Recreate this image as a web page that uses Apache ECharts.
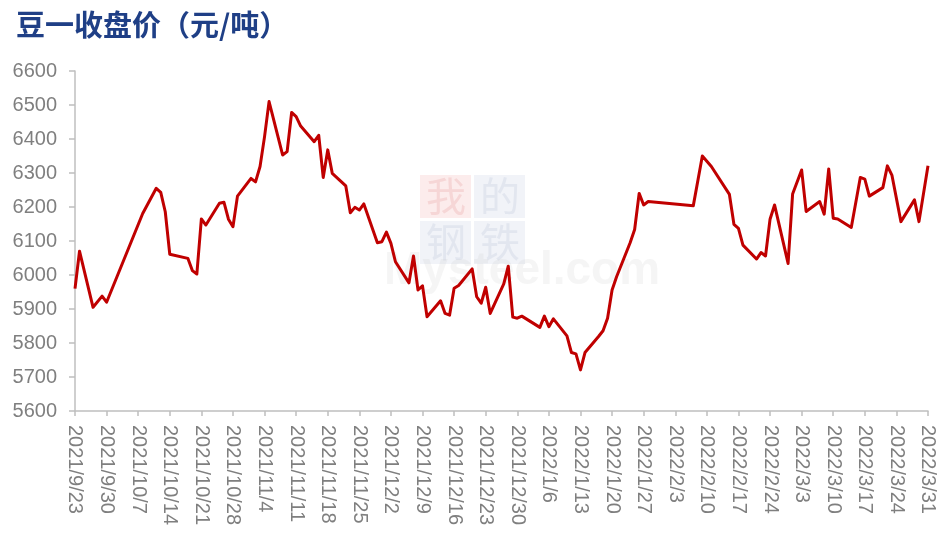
<!DOCTYPE html>
<html><head><meta charset="utf-8">
<script src="https://cdn.jsdelivr.net/npm/echarts@6/dist/echarts.min.js"></script>
<style>html,body{margin:0;padding:0;background:#fff}#c{width:942px;height:547px}</style>
</head><body><div id="c"></div>
<script>
const dates = [
'2021/9/23','2021/9/24','2021/9/27','2021/9/29','2021/9/30','2021/10/8','2021/10/11','2021/10/12','2021/10/13','2021/10/14',
'2021/10/18','2021/10/19','2021/10/20','2021/10/21','2021/10/22','2021/10/25','2021/10/26','2021/10/27','2021/10/28','2021/10/29',
'2021/11/1','2021/11/2','2021/11/3','2021/11/4','2021/11/5','2021/11/8','2021/11/9','2021/11/10','2021/11/11','2021/11/12',
'2021/11/15','2021/11/16','2021/11/17','2021/11/18','2021/11/19','2021/11/22','2021/11/23','2021/11/24','2021/11/25','2021/11/26',
'2021/11/29','2021/11/30','2021/12/1','2021/12/2','2021/12/3','2021/12/6','2021/12/7','2021/12/8','2021/12/9','2021/12/10',
'2021/12/13','2021/12/14','2021/12/15','2021/12/16','2021/12/17','2021/12/20','2021/12/21','2021/12/22','2021/12/23','2021/12/24',
'2021/12/27','2021/12/28','2021/12/29','2021/12/30','2021/12/31','2022/1/4','2022/1/5','2022/1/6','2022/1/7','2022/1/10',
'2022/1/11','2022/1/12','2022/1/13','2022/1/14','2022/1/17','2022/1/18','2022/1/19','2022/1/20','2022/1/21','2022/1/24',
'2022/1/25','2022/1/26','2022/1/27','2022/1/28','2022/2/7','2022/2/9','2022/2/11','2022/2/15','2022/2/16','2022/2/17',
'2022/2/18','2022/2/21','2022/2/22','2022/2/23','2022/2/24','2022/2/25','2022/2/28','2022/3/1','2022/3/3','2022/3/4',
'2022/3/7','2022/3/8','2022/3/9','2022/3/10','2022/3/11','2022/3/14','2022/3/16','2022/3/17','2022/3/18','2022/3/21',
'2022/3/22','2022/3/23','2022/3/25','2022/3/28','2022/3/29','2022/3/31'
];
const prices = [
5960,6070,5905,5938,5920,6181,6255,6243,6186,6061,
6049,6013,6003,6165,6147,6211,6214,6164,6142,6232,
6284,6274,6319,6407,6510,6353,6363,6478,6466,6438,
6392,6411,6287,6368,6299,6262,6183,6199,6191,6209,
6095,6098,6126,6093,6039,5977,6056,5956,5968,5877,
5924,5887,5882,5961,5969,6018,5936,5917,5964,5887,
5974,6026,5876,5873,5879,5846,5879,5848,5871,5821,
5772,5768,5721,5772,5819,5836,5873,5956,5995,6095,
6134,6240,6206,6216,6204,6350,6319,6237,6149,6137,
6088,6047,6066,6056,6164,6206,6034,6238,6309,6187,
6216,6179,6312,6167,6165,6140,6287,6282,6232,6257,
6321,6294,6157,6221,6157,6321
];
const startDate = '2021/9/23';
const endDate = '2022/3/31';
const yMin = 5600, yMax = 6600, yStep = 100;
const titleText = '豆一收盘价（元/吨）';

function toUTC(s){const p=s.split('/').map(Number);return Date.UTC(p[0],p[1]-1,p[2]);}
const base = toUTC(startDate);
const dayIdx = s => Math.round((toUTC(s)-base)/86400000);
const fmt = v => {const d=new Date(base+Math.round(v)*86400000);return d.getUTCFullYear()+'/'+(d.getUTCMonth()+1)+'/'+d.getUTCDate();};
const seriesData = dates.map((d,i)=>[dayIdx(d),prices[i]]);

const chart = echarts.init(document.getElementById('c'), null, {renderer:'canvas'});
const axisGray = '#bfbfbf', labelGray = '#7f7f7f';
chart.setOption({
  animation:false,
  backgroundColor:'#fff',
  title:{text:titleText,left:11,top:5,textStyle:{fontFamily:'Noto Sans CJK SC',fontWeight:'bold',fontSize:29,color:'#1f3f86'}},
  graphic:[
    {type:'rect',left:420,top:175,z:-10,shape:{width:51,height:43},style:{fill:'#fcecec'}},
    {type:'rect',left:474,top:175,z:-10,shape:{width:51,height:43},style:{fill:'#f1f3f8'}},
    {type:'rect',left:420,top:221,z:-10,shape:{width:51,height:43},style:{fill:'#f1f3f8'}},
    {type:'rect',left:474,top:221,z:-10,shape:{width:51,height:43},style:{fill:'#f1f3f8'}},
    {type:'text',left:426,top:176,z:-9,style:{text:'我',font:'40px "Noto Sans CJK SC"',fill:'#f6d6d6'}},
    {type:'text',left:480,top:176,z:-9,style:{text:'的',font:'40px "Noto Sans CJK SC"',fill:'#e2e6ef'}},
    {type:'text',left:426,top:222,z:-9,style:{text:'钢',font:'40px "Noto Sans CJK SC"',fill:'#e2e6ef'}},
    {type:'text',left:480,top:222,z:-9,style:{text:'铁',font:'40px "Noto Sans CJK SC"',fill:'#e2e6ef'}},
    {type:'text',left:384,top:248,z:-8,style:{text:'Mysteel.com',font:'bold 46px "Liberation Sans"',fill:'rgba(200,200,200,0.18)'}}
  ],
  grid:{left:75,right:14,top:71,bottom:136,containLabel:false},
  xAxis:{type:'value',min:0,max:dayIdx(endDate),interval:7,
    axisLine:{show:true,lineStyle:{color:axisGray,width:1.5}},
    axisTick:{show:true,length:5,lineStyle:{color:axisGray,width:1.5}},
    splitLine:{show:false},
    axisLabel:{rotate:-90,margin:14,fontSize:20,color:labelGray,fontFamily:'Liberation Sans',formatter:fmt,showMinLabel:true,showMaxLabel:true}},
  yAxis:{type:'value',min:yMin,max:yMax,interval:yStep,
    axisLine:{show:true,lineStyle:{color:axisGray,width:1.5}},
    axisTick:{show:true,length:6,lineStyle:{color:axisGray,width:1.5}},
    splitLine:{show:false},
    axisLabel:{margin:18,fontSize:20,color:labelGray,fontFamily:'Liberation Sans',formatter:v=>String(v)}},
  series:[{type:'line',data:seriesData,showSymbol:false,symbol:'none',smooth:false,
    lineStyle:{color:'#c00000',width:3,join:'round'},z:5}]
});
</script></body></html>
